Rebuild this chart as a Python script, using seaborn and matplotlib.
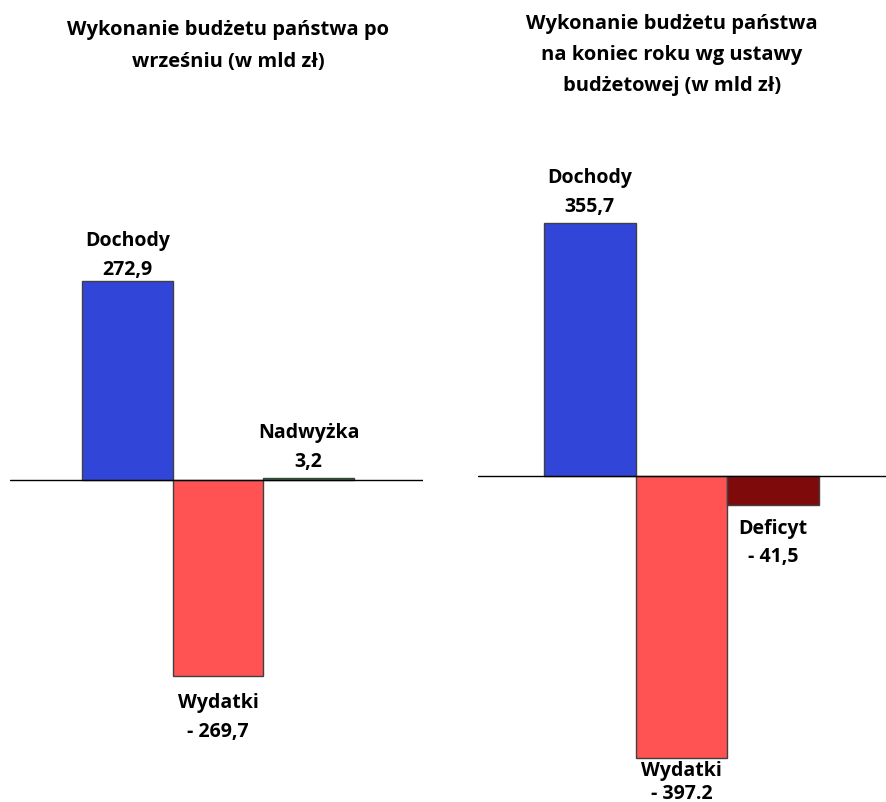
import pandas as pd
import matplotlib.pyplot as plt
import seaborn as sns

# Dane - wykonanie po wrześniu
kat_wrzesien = ["Dochody", "Wydatki", "Nadwyżka"]
wart_wrzesien = [272.9, -269.7, 3.2]
opis_wrzesien = ["272,9", "- 269,7", "3,2"]
kolory_wrzesien = ["#3146D8", "#FF5252", "#1F7A3A"]

# Dane - ustawa budżetowa
kat_ustawa = ["Dochody", "Wydatki", "Deficyt"]
wart_ustawa = [355.7, -397.2, -41.5]
opis_ustawa = ["355,7", "- 397.2", "- 41,5"]
kolory_ustawa = ["#3146D8", "#FF5252", "#7F0A0C"]

tytul_lewy = "Wykonanie budżetu państwa po\nwrześniu (w mld zł)"
tytul_prawy = "Wykonanie budżetu państwa\nna koniec roku wg ustawy\nbudżetowej (w mld zł)"

# odstępy etykiet od słupków (w punktach) i interlinia
odstep_wrzesien = [2, -11, 5]
odstep_ustawa = [5, -1, -9]
interlinia_wrzesien = [1.6, 1.6, 1.6]
interlinia_ustawa = [1.6, 1.2, 1.55]

sns.set_style("white")
plt.rcParams['font.family'] = ['Open Sans', 'DejaVu Sans']
plt.rcParams['font.weight'] = 'bold'
plt.rcParams['text.color'] = 'black'
ROZMIAR = 14

fig = plt.figure(figsize=(8.86, 8.03), dpi=100)


def panel(rect, kat, wart, opis, kolory, odstepy, interlinia, xlim, ylim):
    ax = fig.add_axes(rect)
    df = pd.DataFrame({"kat": kat, "wartosc": wart})
    sns.barplot(data=df, x="kat", y="wartosc", hue="kat",
                palette=dict(zip(kat, kolory)), width=1, saturation=1,
                edgecolor="#404040", linewidth=1, legend=False, ax=ax)
    ax.axhline(0, color="black", lw=1)
    ax.set_xlim(xlim)
    ax.set_ylim(ylim)
    ax.axis("off")
    for i, (k, v, t, d, ls) in enumerate(zip(kat, wart, opis, odstepy, interlinia)):
        ax.annotate(f"{k}\n{t}", (i, v), xytext=(0, d), textcoords="offset points",
                    ha="center", va="bottom" if v >= 0 else "top",
                    fontsize=ROZMIAR, fontweight="bold", linespacing=ls,
                    color="black", annotation_clip=False)
    return ax


panel([10 / 886, 43 / 803, 413 / 886, 610 / 803], kat_wrzesien, wart_wrzesien,
      opis_wrzesien, kolory_wrzesien, odstep_wrzesien, interlinia_wrzesien,
      (-1.296, 3.262), (-383.2, 454.7))
panel([478 / 886, 3 / 803, 408 / 886, 650 / 803], kat_ustawa, wart_ustawa,
      opis_ustawa, kolory_ustawa, odstep_ustawa, interlinia_ustawa,
      (-1.22, 3.23), (-454.3, 459.9))

fig.text(228 / 886, 1 - 46 / 803, tytul_lewy, ha="center", va="center",
         fontsize=14.5, fontweight="bold", linespacing=1.75, color="black")
fig.text(672 / 886, 1 - 55 / 803, tytul_prawy, ha="center", va="center",
         fontsize=14.5, fontweight="bold", linespacing=1.72, color="black")

fig.savefig("out.png", dpi=100)
